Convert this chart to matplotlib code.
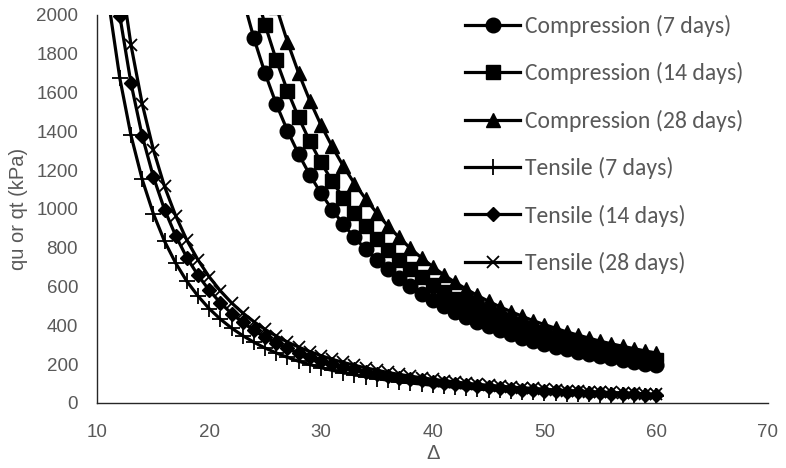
import matplotlib
matplotlib.use("Agg")
import matplotlib.pyplot as plt

# Δ values (x) for compression and tensile series
delta_comp = list(range(22, 61))
delta_tens = list(range(11, 61))

comp_7 = [2333, 2089, 1880, 1699, 1541, 1404, 1283, 1176, 1081, 997, 921, 853, 793, 738,
          688, 643, 601, 564, 530, 498, 469, 443, 418, 395, 374, 355, 337, 320, 305, 290,
          276, 264, 252, 240, 230, 220, 211, 202, 194]
comp_14 = [2676, 2396, 2156, 1949, 1768, 1610, 1472, 1349, 1240, 1144, 1056, 978, 910, 846,
           789, 738, 689, 647, 608, 571, 538, 508, 479, 453, 429, 407, 387, 367, 350, 333,
           317, 303, 289, 275, 264, 252, 242, 232, 223]
comp_28 = [3094, 2770, 2493, 2253, 2043, 1862, 1701, 1559, 1433, 1322, 1221, 1131, 1052, 979,
           912, 853, 797, 748, 703, 660, 622, 587, 554, 524, 496, 471, 447, 424, 404, 385,
           366, 350, 334, 318, 305, 292, 280, 268, 257]

tens_7 = [2066, 1674, 1379, 1153, 976, 834, 721, 627, 551, 486, 432, 386, 347, 313, 283, 258,
          235, 215, 198, 182, 168, 156, 145, 135, 126, 117, 110, 103, 97, 91, 86, 81, 76, 72,
          68, 65, 61, 58, 56, 53, 50, 48, 46, 44, 42, 40, 39, 37, 35, 34]
tens_14 = [2469, 1995, 1648, 1378, 1166, 997, 862, 749, 658, 581, 516, 461, 415, 374, 338, 308,
           281, 257, 237, 217, 201, 186, 173, 161, 151, 140, 131, 123, 116, 109, 103, 97, 91,
           86, 81, 78, 73, 69, 67, 63, 60, 57, 55, 53, 50, 48, 47, 44, 42, 41]
tens_28 = [2764, 2240, 1845, 1543, 1306, 1116, 965, 839, 737, 650, 578, 516, 464, 419, 379, 345,
           314, 288, 265, 244, 225, 209, 194, 181, 169, 157, 147, 138, 130, 122, 115, 108, 102,
           96, 91, 87, 82, 78, 75, 71, 67, 64, 62, 59, 56, 54, 52, 50, 47, 45]

labels = ["Compression (7 days)", "Compression (14 days)", "Compression (28 days)",
          "Tensile (7 days)", "Tensile (14 days)", "Tensile (28 days)"]

x_ticks = [10, 20, 30, 40, 50, 60, 70]
y_ticks = [0, 200, 400, 600, 800, 1000, 1200, 1400, 1600, 1800, 2000]

gray = "#595959"
axis_font = ["Liberation Sans", "DejaVu Sans"]
legend_font = ["Carlito", "Lato", "DejaVu Sans"]
fig = plt.figure(figsize=(7.86, 4.68), dpi=100)
ax = fig.add_axes([0.124, 0.139, 0.853, 0.829])

lw = 2.3
series = [
    (delta_comp, comp_7, dict(marker="o", markersize=10.5)),
    (delta_comp, comp_14, dict(marker="s", markersize=9.5)),
    (delta_comp, comp_28, dict(marker="^", markersize=10.5)),
    (delta_tens, tens_7, dict(marker="+", markersize=11, markeredgewidth=1.3)),
    (delta_tens, tens_14, dict(marker="D", markersize=7.5)),
    (delta_tens, tens_28, dict(marker="x", markersize=8, markeredgewidth=1.3)),
]
for (xs, ys, mk), lab in zip(series, labels):
    ax.plot(xs, ys, color="black", linewidth=lw, markerfacecolor="black",
            markeredgecolor="black", label=lab, **mk)

ax.set_xlim(10, 70)
ax.set_ylim(0, 2000)
ax.set_xticks(x_ticks)
ax.set_yticks(y_ticks)
ax.set_xticklabels([str(v) for v in x_ticks], family=axis_font, fontsize=13.5, color=gray)
ax.set_yticklabels([str(v) for v in y_ticks], family=axis_font, fontsize=13.5, color=gray)
ax.tick_params(axis="x", length=0, pad=15)
ax.tick_params(axis="y", length=0, pad=14)
for side in ["top", "right"]:
    ax.spines[side].set_visible(False)
for side in ["left", "bottom"]:
    ax.spines[side].set_color("#262626")
    ax.spines[side].set_linewidth(1.0)

ax.set_xlabel("Δ", family=axis_font, fontsize=14.5, color=gray, labelpad=2)
ax.set_ylabel("qu or qt (kPa)", family=axis_font, fontsize=14.5, color=gray, labelpad=6)

leg = fig.legend(loc="upper left", bbox_to_anchor=(465 / 786, 1 - 15 / 468), frameon=False,
                 borderpad=0, borderaxespad=0,
                 handlelength=2.35, handletextpad=0.18, labelspacing=1.07,
                 prop={"family": legend_font, "size": 17})
for t in leg.get_texts():
    t.set_color(gray)

fig.savefig("out.png", dpi=100)
